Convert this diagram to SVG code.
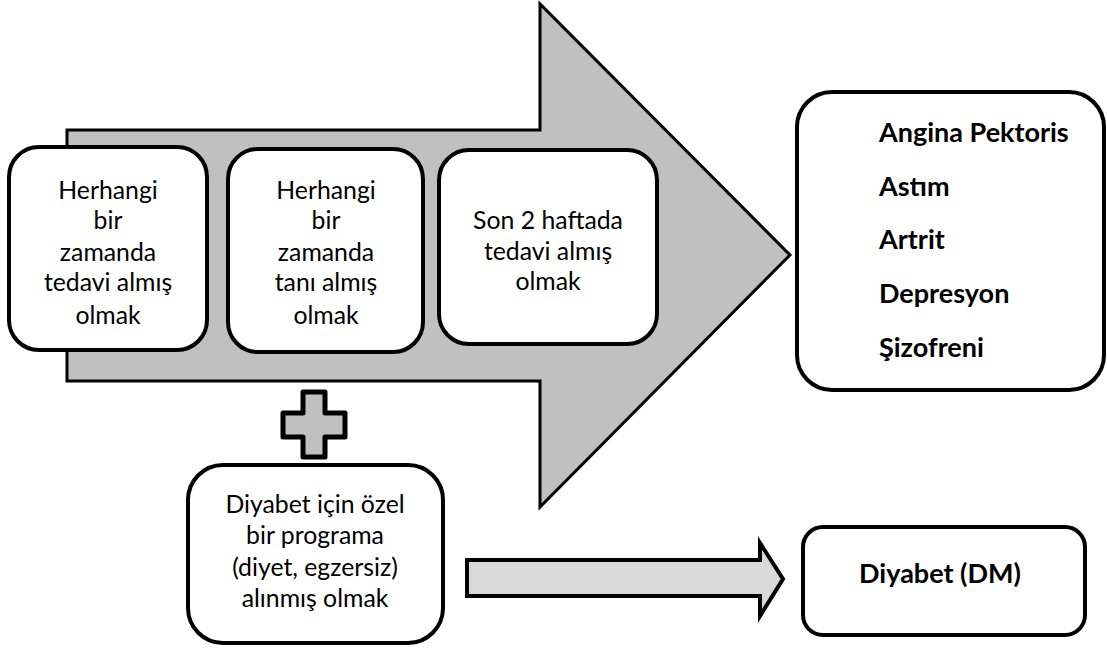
<svg xmlns="http://www.w3.org/2000/svg" width="1107" height="648" viewBox="0 0 1107 648">
<style>
.box{fill:#fff;stroke:#000;stroke-width:4}
.t{font-family:Lato,"Noto Sans",sans-serif;font-size:24.8px;fill:#000;text-anchor:middle}
.b{font-family:Lato,"Noto Sans",sans-serif;font-size:27px;font-weight:bold;fill:#000}
</style>
<rect width="1107" height="648" fill="#fff"/>
<g id="connectors">
<polygon id="big-arrow" points="67,130 540,130 540,4 790,255 540,507 540,381 67,381" fill="#c0c0c0" stroke="#000" stroke-width="3"/>
<polygon id="small-arrow" points="467,560 760,560 760,543 783,579 760,616 760,596 467,596" fill="#d9d9d9" stroke="#000" stroke-width="4" stroke-linejoin="miter"/>
</g>
<g id="plus">
<polygon points="303,392 325,392 325,413 345,413 345,437 325,437 325,457 303,457 303,437 283,437 283,413 303,413" fill="#c0c0c0" stroke="#000" stroke-width="5" stroke-linejoin="round"/>
</g>
<g id="n1">
<rect class="box" x="9" y="147" width="198" height="203" rx="30"/>
<text class="t" x="108" y="199">Herhangi</text>
<text class="t" x="108" y="229">bir</text>
<text class="t" x="108" y="261">zamanda</text>
<text class="t" x="108" y="291">tedavi almış</text>
<text class="t" x="108" y="324">olmak</text>
</g>
<g id="n2">
<rect class="box" x="228" y="149" width="195" height="203" rx="30"/>
<text class="t" x="326" y="199">Herhangi</text>
<text class="t" x="326" y="229">bir</text>
<text class="t" x="326" y="261">zamanda</text>
<text class="t" x="326" y="291">tanı almış</text>
<text class="t" x="326" y="324">olmak</text>
</g>
<g id="n3">
<rect class="box" x="439" y="150" width="218" height="194" rx="30"/>
<text class="t" x="548" y="229">Son 2 haftada</text>
<text class="t" x="548" y="260">tedavi almış</text>
<text class="t" x="548" y="290">olmak</text>
</g>
<g id="n4">
<rect class="box" x="797" y="92" width="307" height="298" rx="35"/>
<text class="b" x="879" y="142">Angina Pektoris</text>
<text class="b" x="879" y="196">Astım</text>
<text class="b" x="879" y="249">Artrit</text>
<text class="b" x="879" y="303">Depresyon</text>
<text class="b" x="879" y="357">Şizofreni</text>
</g>
<g id="n5">
<rect class="box" x="188" y="465" width="255" height="178" rx="35"/>
<text class="t" x="315" y="513">Diyabet için özel</text>
<text class="t" x="315" y="544">bir programa</text>
<text class="t" x="315" y="576">(diyet, egzersiz)</text>
<text class="t" x="315" y="607">alınmış olmak</text>
</g>
<g id="n6">
<rect class="box" x="803" y="527" width="282" height="108" rx="20"/>
<text class="b" x="940" y="583" text-anchor="middle">Diyabet (DM)</text>
</g>
</svg>
